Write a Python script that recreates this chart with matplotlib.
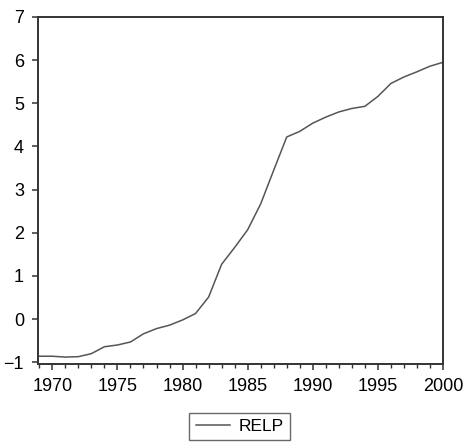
import matplotlib
matplotlib.use('Agg')
import matplotlib.pyplot as plt
from matplotlib.ticker import MultipleLocator

plt.rcParams['font.family'] = ['Liberation Sans', 'DejaVu Sans']

years = list(range(1969, 2001))
relp = [-0.86, -0.86, -0.88, -0.87, -0.80, -0.64, -0.60, -0.53, -0.34, -0.22,
        -0.14, -0.02, 0.13, 0.51, 1.27, 1.66, 2.07, 2.67, 3.45, 4.22,
        4.35, 4.54, 4.68, 4.80, 4.88, 4.93, 5.16, 5.46, 5.61, 5.73,
        5.86, 5.95]
ytick_vals = [-1, 0, 1, 2, 3, 4, 5, 6, 7]
xtick_vals = [1970, 1975, 1980, 1985, 1990, 1995, 2000]

fig = plt.figure(figsize=(4.63, 4.47), dpi=100)
ax = fig.add_axes([0.0821, 0.1857, 0.8747, 0.7763])

ax.plot(years, relp, color='#555555', linewidth=1.1, label='RELP')

ax.set_xlim(1968.9, 2000)
ax.set_ylim(-1.04, 7)
ax.set_xticks(xtick_vals)
ax.set_yticks(ytick_vals)
ax.xaxis.set_minor_locator(MultipleLocator(1))

for s in ax.spines.values():
    s.set_linewidth(1.4)
    s.set_color('#333333')

ax.tick_params(axis='both', which='major', labelsize=13, color='#333333',
               width=1.1, length=4, pad=6)
ax.tick_params(axis='x', which='minor', color='#333333', width=1.0, length=3)
ax.tick_params(axis='x', which='major', pad=6)

fig.legend(loc='center', bbox_to_anchor=(0.518, 0.0455), frameon=True,
           fancybox=False, edgecolor='#444444', fontsize=12.5,
           handlelength=2.0, handletextpad=0.5, borderpad=0.35)

fig.savefig('out.png', dpi=100)
